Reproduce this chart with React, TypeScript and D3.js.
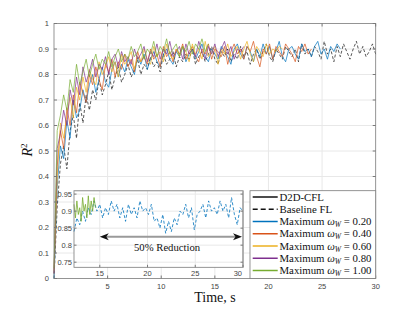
import * as d3 from "d3";

// sample period of the logged curves, s
const T_STEP = 0.3;
const INSET_T0 = 12.3;
const INSET_GREEN_STEP = 0.15;

const omegaLabels = ["0.20", "0.40", "0.60", "0.80", "1.00"];
const omegaColors = ["#0072BD", "#D95319", "#EDB120", "#7E2F8E", "#77AC30"];

const xTicks = [5, 10, 15, 20, 25, 30];
const yTicks = [0, 0.1, 0.2, 0.3, 0.4, 0.5, 0.6, 0.7, 0.8, 0.9, 1];
const insetXTicks = [15, 20, 25, 30];
const insetYTicks = [0.75, 0.8, 0.85, 0.9, 0.95];

// Baseline FL (dashed black)
const baselineFL = [0.00,0.28,0.45,0.52,0.43,0.58,0.64,0.55,0.69,0.61,0.72,0.66,0.74,0.70,0.78,0.72,0.76,0.81,0.74,0.79,0.83,0.77,0.80,0.84,0.79,0.82,0.86,0.80,0.84,0.82,0.87,0.83,0.85,0.81,0.88,0.84,0.86,0.89,0.83,0.87,0.85,0.88,0.86,0.90,0.84,0.87,0.89,0.85,0.88,0.91,0.86,0.84,0.89,0.87,0.90,0.85,0.88,0.86,0.91,0.87,0.89,0.84,0.88,0.90,0.86,0.89,0.92,0.87,0.85,0.90,0.88,0.86,0.91,0.89,0.87,0.90,0.85,0.92,0.88,0.90,0.87,0.91,0.89,0.86,0.93,0.88,0.90,0.85,0.91,0.87,0.92,0.89,0.86,0.90,0.93,0.88,0.91,0.87,0.89,0.92,0.88];

// D2D-CFL, one curve per max omega_W
const cfl020 = [0.00,0.36,0.52,0.47,0.62,0.55,0.70,0.63,0.66,0.74,0.69,0.76,0.80,0.73,0.78,0.83,0.77,0.75,0.82,0.85,0.79,0.84,0.81,0.86,0.83,0.80,0.87,0.84,0.88,0.82,0.86,0.89,0.85,0.83,0.88,0.90,0.86,0.84,0.89,0.87,0.91,0.85,0.88,0.90,0.86,0.89,0.92,0.87,0.85,0.90,0.88,0.86,0.91,0.89,0.87,0.84,0.90,0.92,0.88,0.86,0.91,0.89,0.85,0.90,0.87,0.92,0.88,0.91,0.86,0.89,0.93,0.87,0.85,0.90,0.91,0.88,0.86,0.92,0.89,0.90,0.87,0.91,0.93,0.88,0.90,0.86,0.91,0.89,0.92,0.90];
const cfl040 = [0.02,0.44,0.58,0.51,0.67,0.60,0.72,0.65,0.77,0.73,0.69,0.80,0.76,0.83,0.78,0.74,0.84,0.81,0.86,0.79,0.85,0.82,0.88,0.83,0.86,0.81,0.89,0.85,0.87,0.84,0.90,0.86,0.88,0.83,0.91,0.87,0.89,0.85,0.90,0.88,0.92,0.86,0.89,0.91,0.87,0.85,0.90,0.88,0.92,0.86,0.90,0.89,0.87,0.91,0.84,0.89,0.92,0.88,0.90,0.86,0.91,0.89,0.93,0.87,0.83,0.90,0.88,0.92,0.86,0.91,0.89,0.87,0.92,0.90,0.88,0.85,0.91,0.89,0.92,0.88,0.90];
const cfl060 = [0.03,0.40,0.61,0.55,0.64,0.71,0.63,0.75,0.70,0.79,0.73,0.82,0.78,0.76,0.85,0.80,0.83,0.87,0.81,0.85,0.79,0.88,0.84,0.86,0.89,0.82,0.87,0.85,0.90,0.86,0.84,0.91,0.87,0.89,0.85,0.92,0.88,0.86,0.90,0.87,0.91,0.89,0.85,0.92,0.88,0.90,0.86,0.93,0.87,0.89,0.91,0.84,0.90,0.88,0.92,0.87,0.89,0.91,0.86,0.90,0.93,0.88,0.85,0.91,0.89,0.87,0.92,0.88,0.90,0.89,0.91,0.90];
const cfl080 = [0.02,0.51,0.57,0.66,0.60,0.74,0.68,0.79,0.72,0.83,0.77,0.81,0.86,0.79,0.84,0.82,0.87,0.80,0.86,0.88,0.83,0.89,0.85,0.87,0.84,0.90,0.86,0.88,0.91,0.85,0.89,0.87,0.92,0.86,0.90,0.88,0.93,0.87,0.89,0.91,0.86,0.92,0.88,0.90,0.87,0.93,0.89,0.86,0.91,0.88,0.92,0.87,0.90,0.93,0.88,0.91,0.86,0.90,0.89,0.91];
const cfl100 = [0.04,0.58,0.64,0.72,0.66,0.78,0.73,0.84,0.76,0.81,0.86,0.79,0.84,0.88,0.82,0.86,0.84,0.89,0.83,0.87,0.90,0.85,0.88,0.86,0.91,0.87,0.89,0.92,0.86,0.90,0.88,0.93,0.87,0.91,0.89,0.94,0.88,0.90,0.92,0.87,0.91,0.89,0.93,0.88,0.92,0.90,0.94,0.89,0.92];

// inset: baseline FL at omega 0.20 (dashed) vs D2D-CFL at omega 1.00
const insetBaseline = [0.84,0.88,0.86,0.90,0.87,0.91,0.89,0.93,0.90,0.92,0.88,0.91,0.89,0.93,0.90,0.92,0.88,0.91,0.87,0.92,0.89,0.91,0.88,0.93,0.90,0.91,0.89,0.92,0.87,0.88,0.85,0.89,0.835,0.87,0.84,0.88,0.86,0.90,0.89,0.92,0.88,0.91,0.845,0.89,0.90,0.92,0.88,0.93,0.90,0.91,0.89,0.93,0.90,0.92,0.88,0.94,0.89,0.86,0.91,0.90];
const insetCfl = [0.92,0.88,0.93,0.89,0.91,0.87,0.94,0.90,0.92,0.88,0.945,0.89,0.93,0.90,0.94,0.91];

const cflSeries = [cfl020, cfl040, cfl060, cfl080, cfl100];

const arrowFrom = 15;
const arrowTo = 30;
const arrowLevel = 0.825;

export default function App() {
  const width = 415;
  const height = 312;
  const m = { left: 54, right: 39.3, top: 23.5, bottom: 33.5 };

  const x = d3.scaleLinear().domain([0, 30]).range([m.left, width - m.right]);
  const y = d3.scaleLinear().domain([0, 1]).range([height - m.bottom, m.top]);

  const xi = d3.scaleLinear().domain([INSET_T0, 30]).range([74, 243]);
  const yi = d3.scaleLinear().domain([0.735, 0.96]).range([267.3, 190.7]);

  const mainLine = d3
    .line<number>()
    .x((_, i) => x(i * T_STEP))
    .y((d) => y(d));
  const insetLine = (step: number) =>
    d3
      .line<number>()
      .x((_, i) => xi(INSET_T0 + i * step))
      .y((d) => yi(d));

  const legendKeys = ["cfl", "fl", ...omegaLabels];
  const ly = d3.scalePoint().domain(legendKeys).range([197, 270.5]);
  const legBox = { x0: 250, x1: x(30), y0: 190.7, y1: y(0) };

  const axisCol = "#7a7a7a";
  const gridCol = "#e8e8e8";
  const tickFont = "'Liberation Sans', Arial, sans-serif";
  const serif = "'Liberation Serif', 'Times New Roman', serif";

  const ay = yi(arrowLevel);
  const ax0 = xi(arrowFrom);
  const ax1 = xi(arrowTo) - 1;

  return (
    <svg
      width={width}
      height={height}
      style={{ position: "absolute", left: 0, top: 0, background: "#fff" }}
    >
      {/* main axes */}
      <rect x={x(0)} y={y(1)} width={x(30) - x(0)} height={y(0) - y(1)} fill="#fff" />
      {xTicks.slice(0, -1).map((t) => (
        <line key={"gx" + t} x1={x(t)} x2={x(t)} y1={y(0)} y2={y(1)} stroke={gridCol} />
      ))}
      {yTicks.slice(1, -1).map((t) => (
        <line key={"gy" + t} x1={x(0)} x2={x(30)} y1={y(t)} y2={y(t)} stroke={gridCol} />
      ))}

      <path d={mainLine(baselineFL) ?? ""} fill="none" stroke="#111" strokeWidth={0.7} strokeDasharray="3,2" />
      {cflSeries.map((s, k) => (
        <path key={"s" + k} d={mainLine(s) ?? ""} fill="none" stroke={omegaColors[k]} strokeWidth={0.7} />
      ))}

      <rect x={x(0)} y={y(1)} width={x(30) - x(0)} height={y(0) - y(1)} fill="none" stroke={axisCol} strokeWidth={0.8} />
      {xTicks.map((t) => (
        <g key={"tx" + t}>
          <line x1={x(t)} x2={x(t)} y1={y(0)} y2={y(0) - 3} stroke={axisCol} />
          <line x1={x(t)} x2={x(t)} y1={y(1)} y2={y(1) + 3} stroke={axisCol} />
          <text x={x(t)} y={y(0) + 10} textAnchor="middle" fontFamily={tickFont} fontSize={7.5} fill="#444">
            {t}
          </text>
        </g>
      ))}
      {yTicks.map((t) => (
        <g key={"ty" + t}>
          <line x1={x(0)} x2={x(0) + 3} y1={y(t)} y2={y(t)} stroke={axisCol} />
          <line x1={x(30)} x2={x(30) - 3} y1={y(t)} y2={y(t)} stroke={axisCol} />
          <text x={x(0) - 5} y={y(t) + 2.7} textAnchor="end" fontFamily={tickFont} fontSize={7.5} fill="#444">
            {String(t)}
          </text>
        </g>
      ))}

      <text x={215} y={301.5} textAnchor="middle" fontFamily={serif} fontSize={14} fill="#111">
        Time, s
      </text>
      <text transform="translate(32,150) rotate(-90)" textAnchor="middle" fontFamily={serif} fontSize={14} fill="#111">
        <tspan fontStyle="italic">R</tspan>
        <tspan fontSize={9} dy={-5}>2</tspan>
      </text>

      {/* inset */}
      <rect x={xi(INSET_T0)} y={yi(0.96)} width={xi(30) - xi(INSET_T0)} height={yi(0.735) - yi(0.96)} fill="#fff" />
      {insetXTicks.slice(0, -1).map((t) => (
        <line key={"igx" + t} x1={xi(t)} x2={xi(t)} y1={yi(0.735)} y2={yi(0.96)} stroke={gridCol} />
      ))}
      {insetYTicks.map((t) => (
        <line key={"igy" + t} x1={xi(INSET_T0)} x2={xi(30)} y1={yi(t)} y2={yi(t)} stroke={gridCol} />
      ))}
      <path d={insetLine(T_STEP)(insetBaseline) ?? ""} fill="none" stroke={omegaColors[0]} strokeWidth={0.8} strokeDasharray="3,2" />
      <path d={insetLine(INSET_GREEN_STEP)(insetCfl) ?? ""} fill="none" stroke={omegaColors[4]} strokeWidth={0.8} />
      <rect x={xi(INSET_T0)} y={yi(0.96)} width={xi(30) - xi(INSET_T0)} height={yi(0.735) - yi(0.96)} fill="none" stroke={axisCol} strokeWidth={0.8} />
      <line x1={xi(30)} x2={xi(30)} y1={yi(0.96)} y2={yi(0.735)} stroke="#b0b0b0" strokeWidth={2} />
      <line x1={xi(INSET_T0)} x2={xi(30)} y1={yi(0.96)} y2={yi(0.96)} stroke="#a8a8a8" strokeWidth={1.2} />
      {insetXTicks.map((t) => (
        <g key={"itx" + t}>
          <line x1={xi(t)} x2={xi(t)} y1={yi(0.735)} y2={yi(0.735) - 2.5} stroke={axisCol} />
          <text
            x={t === 30 ? xi(t) - 1 : xi(t)}
            y={yi(0.735) + 8.5}
            textAnchor={t === 30 ? "end" : "middle"}
            fontFamily={tickFont}
            fontSize={7.5}
            fill="#444"
          >
            {t}
          </text>
        </g>
      ))}
      {insetYTicks.map((t) => (
        <g key={"ity" + t}>
          <line x1={xi(INSET_T0)} x2={xi(INSET_T0) + 2.5} y1={yi(t)} y2={yi(t)} stroke={axisCol} />
          <line x1={xi(30)} x2={xi(30) - 2.5} y1={yi(t)} y2={yi(t)} stroke={axisCol} />
          <text x={xi(INSET_T0) - 2} y={yi(t) + 2.7} textAnchor="end" fontFamily={tickFont} fontSize={7.5} fill="#444">
            {String(t)}
          </text>
        </g>
      ))}

      {/* double arrow annotation */}
      <line x1={ax0 + 6} x2={ax1 - 6} y1={ay} y2={ay} stroke="#9a9a9a" strokeWidth={2} />
      <path d={`M${ax0},${ay} L${ax0 + 9},${ay - 3.5} L${ax0 + 6.5},${ay} L${ax0 + 9},${ay + 3.5} Z`} fill="#111" />
      <path d={`M${ax1},${ay} L${ax1 - 9},${ay - 3.5} L${ax1 - 6.5},${ay} L${ax1 - 9},${ay + 3.5} Z`} fill="#111" />
      <text x={xi(22.05)} y={yi(0.8) + 6} textAnchor="middle" fontFamily={serif} fontSize={10.7} fill="#111">
        50% Reduction
      </text>

      {/* legend */}
      <rect x={legBox.x0} y={legBox.y0} width={legBox.x1 - legBox.x0} height={legBox.y1 - legBox.y0} fill="#fff" stroke={axisCol} strokeWidth={0.8} />
      {legendKeys.map((k, i) => {
        const yy = ly(k) ?? 0;
        const col = i < 2 ? "#111" : omegaColors[i - 2];
        return (
          <g key={"lg" + k}>
            <line
              x1={252.7}
              x2={277.7}
              y1={yy}
              y2={yy}
              stroke={col}
              strokeWidth={1.5}
              strokeDasharray={k === "fl" ? "5,3" : undefined}
            />
            <text x={279.5} y={yy + 3.6} fontFamily={serif} fontSize={10.8} fill="#111">
              {k === "cfl" ? (
                "D2D-CFL"
              ) : k === "fl" ? (
                "Baseline FL"
              ) : (
                <>
                  Maximum <tspan fontStyle="italic">ω</tspan>
                  <tspan fontStyle="italic" fontSize={7.5} dy={2}>
                    W
                  </tspan>
                  <tspan dy={-2}>{" = " + k}</tspan>
                </>
              )}
            </text>
          </g>
        );
      })}
    </svg>
  );
}
